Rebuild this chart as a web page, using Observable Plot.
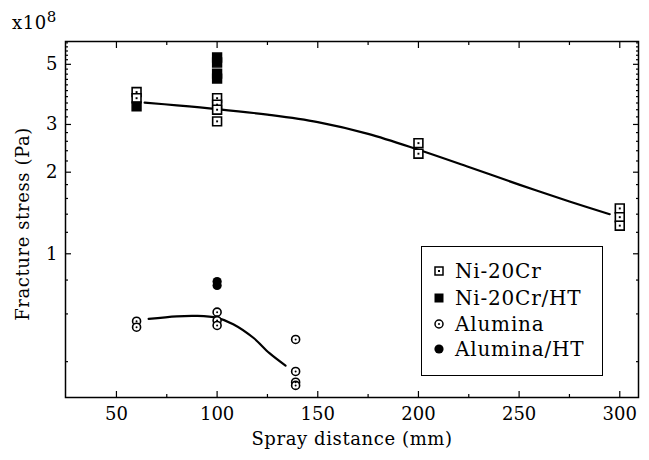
<!DOCTYPE html>
<html>
<head>
<meta charset="utf-8">
<script src="https://cdn.jsdelivr.net/npm/d3@7"></script>
<script src="https://cdn.jsdelivr.net/npm/@observablehq/plot@0.6"></script>
<style>
  body { margin: 0; background: #fff; }
  #wrap { position: relative; width: 649px; height: 460px; font-family: "DejaVu Serif", serif; color: #000; }
  .lbl { position: absolute; white-space: nowrap; font-size: 18px; letter-spacing: 0.6px; }
  #legend { position: absolute; left: 421px; top: 246px; width: 182px; height: 130px; border: 1.5px solid #000; box-sizing: border-box; background: #fff; }
  .row { position: absolute; left: 11px; height: 26px; display: flex; align-items: center; font-size: 20px; letter-spacing: 0.8px; }
  .row svg { margin-right: 10px; }
</style>
</head>
<body>
<div id="wrap"></div>
<script>
// ---- data (spray distance mm, fracture stress x10^8 Pa) ----
const niX   = [60, 60, 100, 100, 100, 100, 200, 200, 300, 300, 300];
const niY   = [3.95, 3.75, 3.75, 3.55, 3.40, 3.08, 2.56, 2.34, 1.47, 1.365, 1.27];
const niHtX = [60, 100, 100, 100, 100];
const niHtY = [3.50, 5.30, 5.08, 4.62, 4.43];
const alX   = [60, 60, 100, 100, 100, 139, 139, 139, 139];
const alY   = [0.564, 0.536, 0.609, 0.567, 0.544, 0.483, 0.368, 0.336, 0.327];
const alHtX = [100, 100];
const alHtY = [0.79, 0.764];
// fitted curves
const niFitX = [64, 80, 100, 125, 150, 175, 200, 225, 250, 275, 295];
const niFitY = [3.61, 3.53, 3.42, 3.26, 3.06, 2.77, 2.42, 2.09, 1.80, 1.56, 1.40];
const alFitX = [66, 80, 90, 100, 108, 118, 126, 134];
const alFitY = [0.575, 0.588, 0.59, 0.58, 0.55, 0.49, 0.43, 0.387];
// ticks
const xMajor = [50, 100, 150, 200, 250, 300];
const xMinor = [75, 125, 175, 225, 275];
const yMajor = [1, 2, 3, 5];
const yMinor = [0.4, 0.6, 0.8, 1.2, 1.4, 1.6, 1.8, 2.2, 2.4, 2.6, 2.8, 3.2, 3.4, 3.6, 3.8, 4.0, 4.2, 4.4, 4.6, 4.8, 5.2, 5.4, 5.6, 5.8, 6.0];
const seriesNames = ["Ni-20Cr", "Ni-20Cr/HT", "Alumina", "Alumina/HT"];

const zip = (xs, ys) => xs.map((x, i) => ({x, y: ys[i]}));
const ni = zip(niX, niY), niHt = zip(niHtX, niHtY), al = zip(alX, alY), alHt = zip(alHtX, alHtY);
const niFit = zip(niFitX, niFitY), alFit = zip(alFitX, alFitY);

const W = 649, H = 460;
const font = "DejaVu Serif";

const tickAxes = (ticks, size) => [
  Plot.axisX({ticks, anchor: "bottom", tickSize: size, dy: -size, text: null, label: null, stroke: "black", strokeWidth: 1.2}),
  Plot.axisX({ticks, anchor: "top", tickSize: size, dy: size, text: null, label: null, stroke: "black", strokeWidth: 1.2})
];
const tickAxesY = (ticks, size) => [
  Plot.axisY({ticks, anchor: "left", tickSize: size, dx: size, text: null, label: null, stroke: "black", strokeWidth: 1.2}),
  Plot.axisY({ticks, anchor: "right", tickSize: size, dx: -size, text: null, label: null, stroke: "black", strokeWidth: 1.2})
];

const chart = Plot.plot({
  width: W, height: H,
  marginLeft: 65, marginRight: 11, marginTop: 41, marginBottom: 63,
  style: {fontFamily: font, fontSize: "18px", background: "white", color: "black"},
  x: {domain: [24.7, 309.3]},
  y: {type: "log", domain: [0.295, 6.07]},
  marks: [
    Plot.axisX({ticks: xMajor, tickSize: 0, tickPadding: 10, label: null, fontSize: 18}),
    Plot.axisY({ticks: yMajor, tickSize: 0, tickPadding: 8, tickFormat: d => String(d), label: null, fontSize: 18}),
    ...tickAxes(xMajor, 6), ...tickAxes(xMinor, 3),
    ...tickAxesY(yMajor, 6), ...tickAxesY(yMinor, 3),
    Plot.frame({stroke: "black", strokeWidth: 1.5}),
    Plot.line(niFit, {x: "x", y: "y", curve: "catmull-rom", stroke: "black", strokeWidth: 2.2}),
    Plot.line(alFit, {x: "x", y: "y", curve: "catmull-rom", stroke: "black", strokeWidth: 2.2}),
    // Ni-20Cr open squares with centre dot
    Plot.dot(ni, {x: "x", y: "y", symbol: "square", r: 5, fill: "white", stroke: "black", strokeWidth: 1.6}),
    Plot.dot(ni, {x: "x", y: "y", symbol: "square", r: 1.1, fill: "black"}),
    // Ni-20Cr/HT filled squares
    Plot.dot(niHt, {x: "x", y: "y", symbol: "square", r: 5, fill: "black", stroke: "black"}),
    // Alumina open circles with centre dot
    Plot.dot(al, {x: "x", y: "y", r: 4, fill: "white", stroke: "black", strokeWidth: 1.6}),
    Plot.dot(al, {x: "x", y: "y", r: 1, fill: "black"}),
    // Alumina/HT filled circles
    Plot.dot(alHt, {x: "x", y: "y", r: 4.6, fill: "black"})
  ]
});

const wrap = document.getElementById("wrap");
wrap.appendChild(chart);

// axis titles and exponent
const xl = document.createElement("div");
xl.className = "lbl"; xl.textContent = "Spray distance (mm)";
xl.style.left = "352px"; xl.style.top = "428px"; xl.style.transform = "translateX(-50%)";
wrap.appendChild(xl);

const yl = document.createElement("div");
yl.className = "lbl"; yl.textContent = "Fracture stress (Pa)";
yl.style.left = "22px"; yl.style.top = "224px";
yl.style.transform = "translate(-50%, -50%) rotate(-90deg)";
wrap.appendChild(yl);

const ex = document.createElement("div");
ex.className = "lbl"; ex.innerHTML = "x10<sup style='font-size:15px;vertical-align:7px'>8</sup>";
ex.style.left = "12px"; ex.style.top = "8px";
wrap.appendChild(ex);

// legend
const lg = document.createElement("div");
lg.id = "legend";
const symbols = [
  `<rect x="2" y="2" width="8" height="8" fill="white" stroke="black" stroke-width="1.5"/><rect x="5" y="5" width="2" height="2" fill="black"/>`,
  `<rect x="1.5" y="1.5" width="9" height="9" fill="black"/>`,
  `<circle cx="6" cy="6" r="4" fill="white" stroke="black" stroke-width="1.5"/><circle cx="6" cy="6" r="1" fill="black"/>`,
  `<circle cx="6" cy="6" r="4.6" fill="black"/>`
];
const rowTops = [11, 38, 64, 89];
seriesNames.forEach((name, i) => {
  const r = document.createElement("div");
  r.className = "row"; r.style.top = rowTops[i] + "px";
  r.innerHTML = `<svg width="12" height="12">${symbols[i]}</svg><span>${name}</span>`;
  lg.appendChild(r);
});
wrap.appendChild(lg);
</script>
</body>
</html>
